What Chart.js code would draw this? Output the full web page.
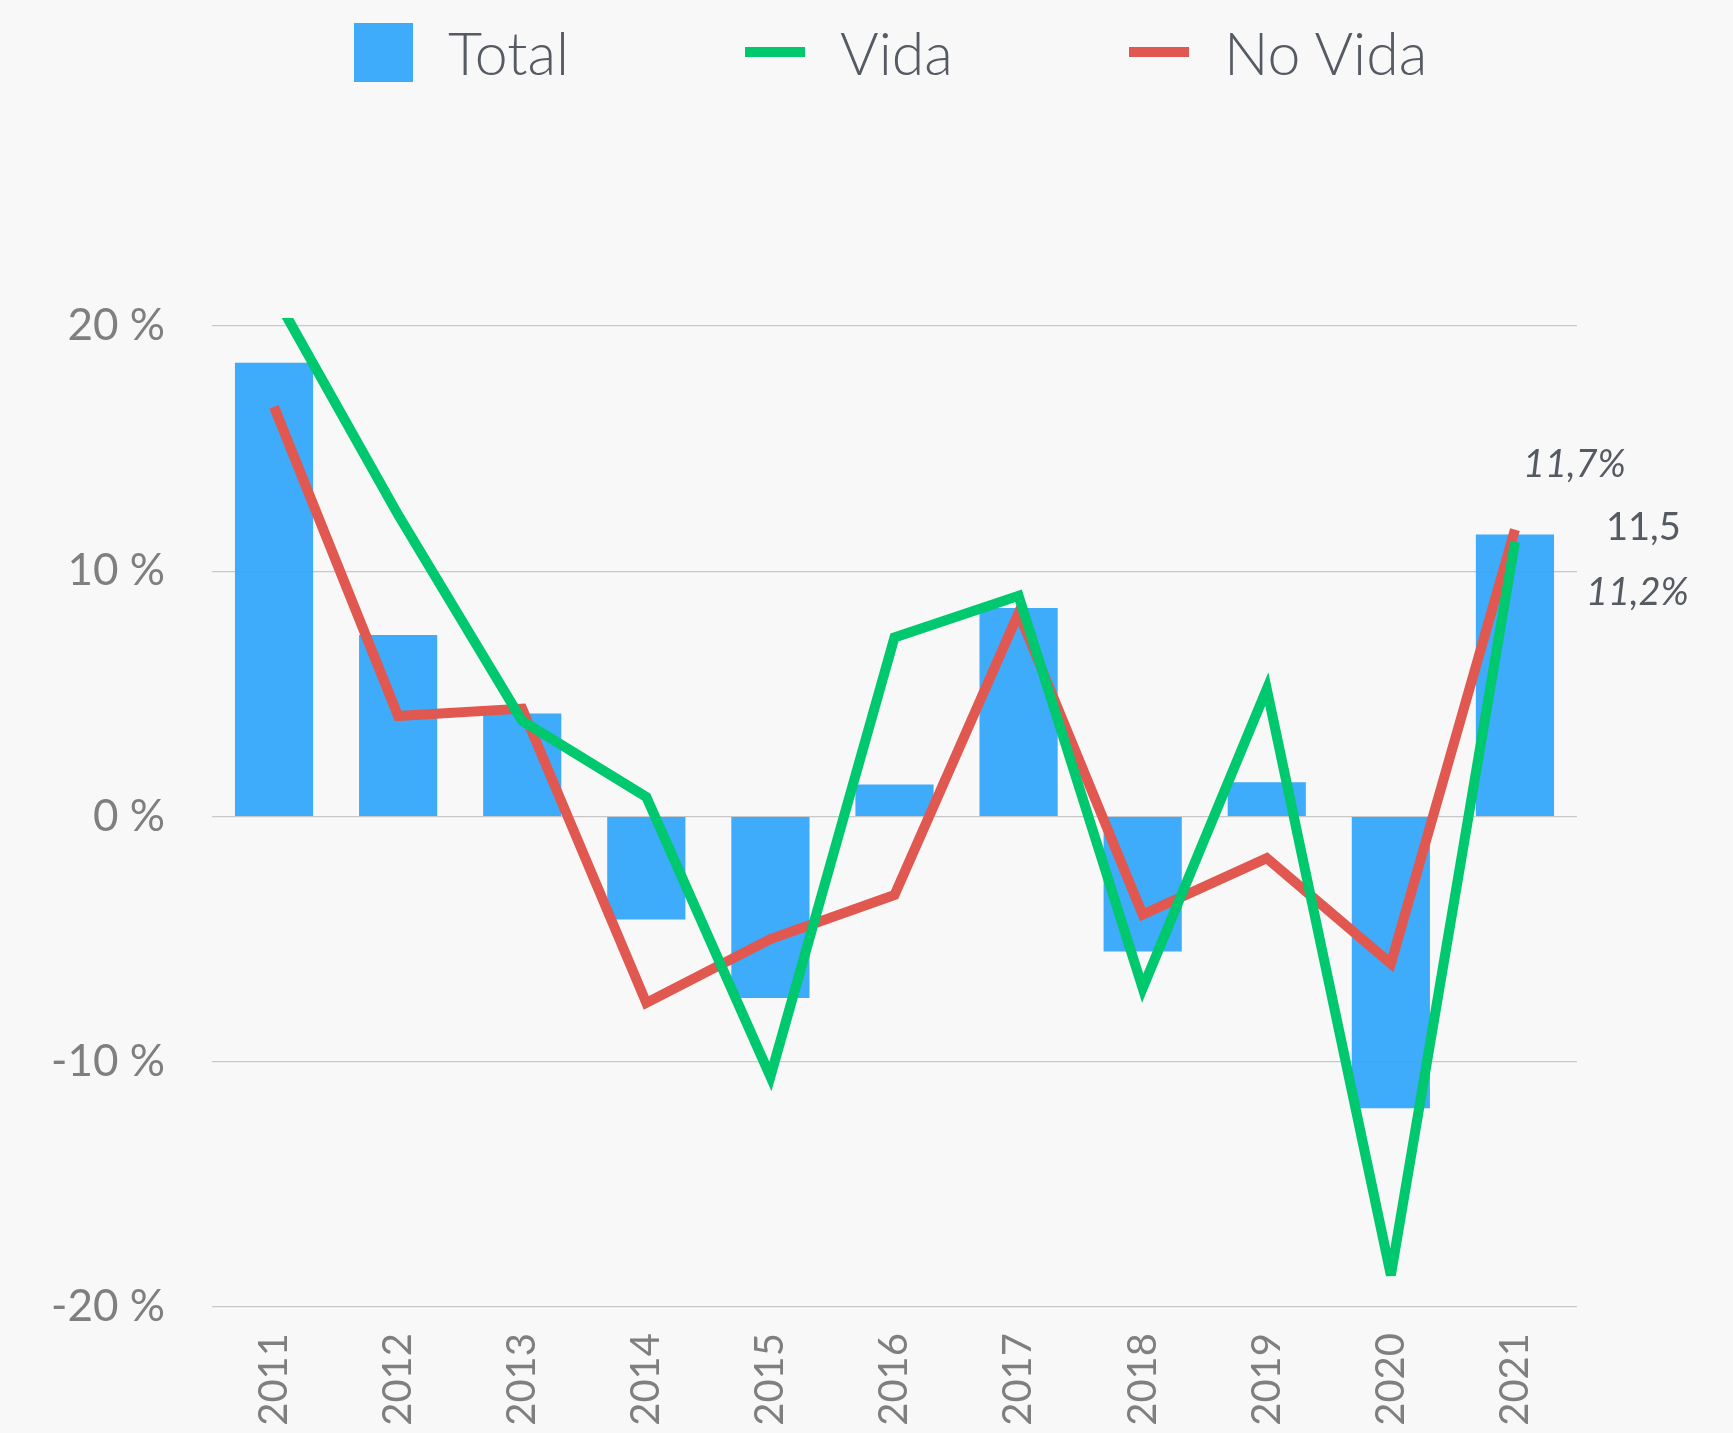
<!DOCTYPE html>
<html>
<head>
<meta charset="utf-8">
<script src="https://cdn.jsdelivr.net/npm/chart.js@4/dist/chart.umd.min.js"></script>
<style>
    body { margin: 0; background: #f8f8f8; }
    #wrap { position: relative; width: 1733px; height: 1433px; }
    #legend {
        position: absolute; left: 354px; top: 22px; height: 60px;
        display: flex; align-items: center; gap: 176px;
        font-family: Lato, sans-serif; font-weight: 300; font-size: 59px; color: #555a63;
    }
    #legend .item { display: flex; align-items: center; }
    #legend .swatch { margin-right: 35px; }
</style>
</head>
<body>
<div id="wrap">
    <div id="legend"></div>
    <canvas id="chart" width="1733" height="1433"></canvas>
</div>
<script>
const years = ['2011', '2012', '2013', '2014', '2015', '2016', '2017', '2018', '2019', '2020', '2021'];
const total = [18.5, 7.4, 4.2, -4.2, -7.4, 1.3, 8.5, -5.5, 1.4, -11.9, 11.5];
const vida = [21.3, 12.3, 3.9, 0.8, -10.6, 7.3, 9.0, -7.0, 5.2, -18.7, 11.2];
const noVida = [16.7, 4.1, 4.4, -7.6, -5.0, -3.2, 8.3, -4.0, -1.7, -6.0, 11.7];
const yTicks = [-20, -10, 0, 10, 20];

const blue = 'rgba(52, 167, 251, 0.95)';
const green = '#00c86e';
const red = '#e05850';
const textColor = '#555a63';

const fmt = v => v.toFixed(1).replace('.', ',');

// sharp joins get cut like the original renderer does
const miter = {
    id: 'miter',
    beforeDatasetsDraw(chart) { chart.ctx.save(); chart.ctx.miterLimit = 4; },
    afterDatasetsDraw(chart) { chart.ctx.restore(); }
};

// last-value notes to the right of 2021
const endLabels = {
    id: 'endLabels',
    afterDatasetsDraw(chart) {
        const ctx = chart.ctx;
        const notes = [
            {ds: 2, dx: 8, dy: -53, italic: true, pct: true},
            {ds: 0, dx: 91, dy: 6, italic: false, pct: false},
            {ds: 1, dx: 71, dy: 63, italic: true, pct: true}
        ];
        ctx.save();
        ctx.fillStyle = textColor;
        ctx.textBaseline = 'alphabetic';
        ctx.textAlign = 'left';
        notes.forEach(n => {
            const meta = chart.getDatasetMeta(n.ds);
            const data = chart.data.datasets[n.ds].data;
            const i = data.length - 1;
            const x = meta.data[i].x;
            const y = chart.scales.y.getPixelForValue(data[i]);
            ctx.font = (n.italic ? 'italic ' : '') + '38px Lato, sans-serif';
            ctx.fillText(fmt(data[i]) + (n.pct ? '%' : ''), x + n.dx, y + n.dy);
        });
        ctx.restore();
    }
};

const lineClip = {top: 8, left: false, right: false, bottom: false};

const chart = new Chart(document.getElementById('chart').getContext('2d'), {
    type: 'bar',
    data: {
        labels: years,
        datasets: [
            {
                type: 'bar', label: 'Total', data: total, backgroundColor: blue,
                borderWidth: 0, categoryPercentage: 0.9, barPercentage: 0.7, order: 3
            },
            {
                type: 'line', label: 'Vida', data: vida, borderColor: green, backgroundColor: green,
                borderWidth: 10, pointRadius: 0, tension: 0, clip: lineClip, order: 1
            },
            {
                type: 'line', label: 'No Vida', data: noVida, borderColor: red, backgroundColor: red,
                borderWidth: 10, pointRadius: 0, tension: 0, clip: lineClip, order: 2
            }
        ]
    },
    options: {
        responsive: false,
        animation: false,
        layout: {padding: {top: 326, right: 156, bottom: 0, left: 0}},
        plugins: {
            legend: {display: false},
            tooltip: {enabled: false}
        },
        scales: {
            x: {
                grid: {display: false, drawTicks: false},
                border: {display: false},
                ticks: {
                    autoSkip: false, minRotation: 90, maxRotation: 90, padding: 26,
                    color: '#7f7f7f', font: {family: 'Lato', size: 40}
                },
                afterFit: scale => { scale.height = 126; }
            },
            y: {
                min: -20, max: 20,
                afterBuildTicks: scale => { scale.ticks = yTicks.map(v => ({value: v})); },
                grid: {color: '#c8c8c8', lineWidth: 1.2, drawTicks: false},
                border: {display: false},
                ticks: {
                    padding: 47, color: '#7f7f7f', font: {family: 'Lato', size: 44},
                    callback: v => v + ' %'
                },
                afterFit: scale => { scale.width = 212; }
            }
        }
    },
    plugins: [miter, endLabels]
});

// html legend in the order of the reference
const legendEl = document.getElementById('legend');
chart.data.datasets.forEach(ds => {
    const item = document.createElement('div');
    item.className = 'item';
    const sw = document.createElement('div');
    sw.className = 'swatch';
    if (ds.type === 'bar') {
        sw.style.width = '59px';
        sw.style.height = '59px';
        sw.style.background = ds.backgroundColor;
    } else {
        sw.style.width = '60px';
        sw.style.height = '10px';
        sw.style.background = ds.borderColor;
    }
    const txt = document.createElement('span');
    txt.textContent = ds.label;
    item.appendChild(sw);
    item.appendChild(txt);
    legendEl.appendChild(item);
});
</script>
</body>
</html>
